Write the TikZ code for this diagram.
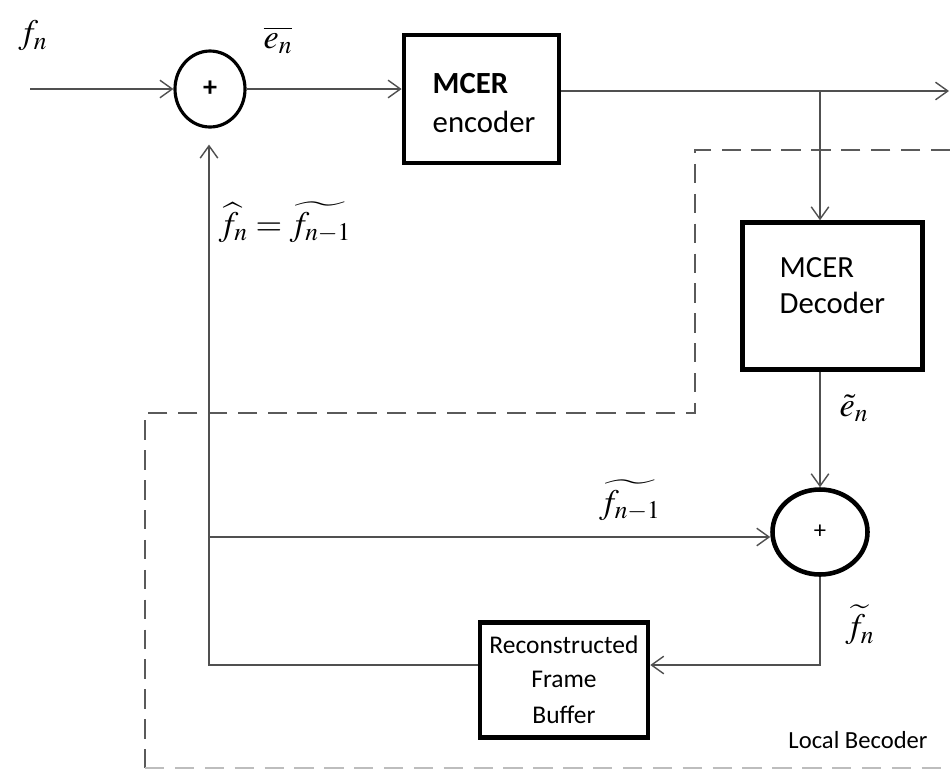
\documentclass[tikz,border=0pt]{standalone}
\usepackage{amsmath,amssymb}
\usepackage{mathptmx}
\usepackage{fontspec}
\setmainfont{Liberation Serif}
\setsansfont{Carlito}
\usepackage{xcolor}
\usepackage{tikz}
\usetikzlibrary{
  shapes.geometric,
  arrows.meta,
  positioning,
  calc
}
\definecolor{wire}{RGB}{80, 80, 80}
\definecolor{dashgray}{RGB}{90, 90, 90}

\begin{document}
\begin{tikzpicture}[
  node distance=1cm,
  every node/.style={font=\sffamily\fontsize{17.5}{21}\selectfont}
]
  % Styles
  \tikzstyle{block} = [rectangle, draw=black, line width=2.6pt, fill=white, align=left, inner sep=0pt]
  \tikzstyle{sumnode} = [ellipse, draw=black, fill=white, inner sep=0pt]
  \tikzstyle{conn} = [->, >={Straight Barb[length=7pt,width=10pt]}, draw=wire, line width=0.8pt]
  \tikzstyle{mathlbl} = [font=\fontsize{19.5}{22}\selectfont, inner sep=0pt]
  \tikzstyle{region} = [draw=dashgray, line width=0.9pt, dash pattern=on 11pt off 6pt]

  \useasboundingbox (0,0) rectangle (19,-15.4);

  % Encoder path
  \node[sumnode, line width=1.8pt, minimum width=1.4cm, minimum height=1.52cm,
        font=\sffamily\bfseries\fontsize{16}{18}\selectfont] (sumA) at (4.2,-1.78) {+};
  \node[block, right=3.1cm of sumA, yshift=-0.2cm, minimum width=3.1cm, minimum height=2.56cm] (enc)
    {\mbox{}\\[-5pt]\hspace{3pt}\textbf{MCER}\\[1pt]\hspace{3pt}encoder};

  % Local decoder
  \node[block, below=1.1cm of enc, xshift=7.02cm, minimum width=3.6cm, minimum height=2.94cm] (dec)
    {MCER\\[0pt]Decoder\\[-9pt]\mbox{}};
  \node[sumnode, line width=2.6pt, minimum width=1.9cm, minimum height=1.7cm,
        font=\sffamily\fontsize{14}{16}\selectfont] (sumB) at (16.4,-10.64) {+};
  \node[block, align=center, minimum width=3.36cm, minimum height=2.3cm,
        font=\sffamily\fontsize{14.5}{19}\selectfont] (buf) at (11.28,-13.6)
    {Reconstructed\\Frame\\[2pt]Buffer};

  % Labels
  \node[mathlbl] (lblfn) at (0.66,-0.72) {$f_n$};
  \node[mathlbl] (lblebar) at (5.56,-0.8) {$\overline{e_n}$};
  \node[mathlbl] (lblpred) at (5.7,-4.44) {$\widehat{f_n}=\widetilde{f_{n-1}}$};
  \node[mathlbl] (lbletil) at (17.08,-8.16) {$\tilde{e}_n$};
  \node[mathlbl] (lblfprev) at (12.6,-10.0) {$\widetilde{f_{n-1}}$};
  \node[mathlbl] (lblftil) at (17.2,-12.5) {$\widetilde{f}_n$};
  \node[font=\sffamily\fontsize{14}{16}\selectfont] (lblloc) at (17.16,-14.8) {Local Becoder};

  % Local decoder region
  \draw[region] (19,-3.0) -- (13.9,-3.0) -- (13.9,-8.26) -- (2.9,-8.26) -- (2.9,-15.36);
  \draw[region, draw=dashgray!40] (2.9,-15.36) -- (19,-15.36);

  % Arrows
  \coordinate (inp) at (0.6,-1.78);
  \coordinate (out) at (18.98,-1.82);
  \coordinate (brk) at (16.4,-1.82);
  \coordinate (fbR) at (16.4,-13.3);
  \coordinate (fbL) at (4.18,-13.3);
  \coordinate (brL) at (4.18,-10.74);
  \draw[conn] (inp) -- (sumA.west);
  \draw[conn] (sumA.east) -- (sumA.east -| enc.west);
  \draw[conn] (enc.east |- out) -- (out);
  \draw[conn] (brk) -- (brk |- dec.north);
  \draw[conn] (sumB |- dec.south) -- (sumB.north);
  \draw[conn] (brL) -- (brL -| sumB.west);
  \draw[conn] (sumB.south) -- (fbR) -- (fbR -| buf.east);
  \draw[conn, shorten >=0.32cm] (fbR -| buf.west) -- (fbL) -- (fbL |- sumA.south);
\end{tikzpicture}
\end{document}
